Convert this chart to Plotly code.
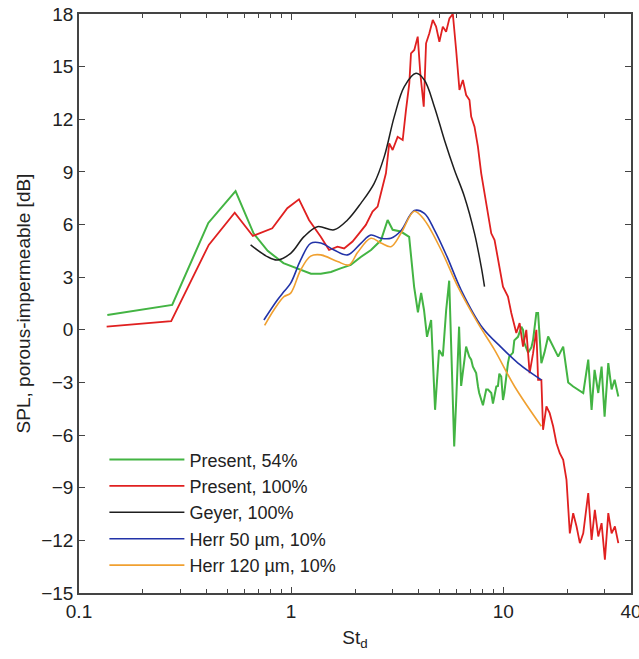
import plotly.graph_objects as go

# ---------------- data ----------------
green_x = [0.136, 0.275, 0.407, 0.547, 0.665, 0.775, 0.92, 1.24, 1.38, 1.54, 1.71, 1.91, 2.13, 2.38,
           2.65, 2.85, 3.01, 3.29, 3.6, 3.67, 3.8, 3.96, 4.1, 4.23, 4.37, 4.57, 4.72, 4.77, 4.98,
           5.19, 5.38, 5.56, 5.72, 5.87, 6.0, 6.19, 6.33, 6.45, 6.68, 6.91, 7.06, 7.19, 7.45, 7.6,
           7.7, 8.02, 8.31, 8.47, 8.78, 8.94, 9.27, 9.44, 9.58, 9.78, 9.97, 10.11, 10.33, 10.52,
           10.67, 11.11, 11.27, 11.73, 12.17, 12.39, 12.57, 13.09, 13.57, 13.82, 14.32, 14.59,
           15.12, 15.63, 16.27, 17.18, 18.14, 19.16, 20.23, 21.36, 22.56, 23.82, 25.15, 26.08,
           26.94, 28.04, 29.07, 30.03, 31.26, 32.41, 33.48, 34.86]
green_y = [0.85, 1.42, 6.09, 7.9, 5.5, 4.5, 3.8, 3.2, 3.2, 3.3, 3.5, 3.7, 4.15, 4.55,
           5.1, 6.26, 5.7, 5.6, 5.3, 4.4, 2.45, 1.0, 2.1, 1.13, -0.4, 0.56, -2.85, -4.56, -1.15,
           -1.5, 1.13, 2.8, -2.1, -6.65, -4.0, 0.18, -3.2, -2.47, -0.96, -1.53, -1.7, -2.1, -2.47, -3.23,
           -3.6, -4.3, -3.4, -3.4, -3.6, -4.2, -3.23, -3.2, -2.5, -2.67, -4.0, -3.6, -2.47, -1.9,
           -1.53, -1.3, -0.6, -0.4, 0.17, 0.0, -0.75, -1.3, -1.0, -0.57, 0.96, 0.96,
           -1.9, -1.3, -0.38, -0.96, -1.53, -0.96, -3.0, -3.23, -3.4, -3.6, -1.7, -4.56,
           -2.28, -3.6, -2.1, -4.95, -1.9, -3.4, -2.85, -3.8]

red_x = [0.135, 0.272, 0.409, 0.542, 0.66, 0.815, 0.959, 1.089, 1.214, 1.379, 1.509, 1.654, 1.777,
         1.947, 2.092, 2.25, 2.42, 2.556, 2.65, 2.798, 2.901, 3.009, 3.177, 3.356, 3.479, 3.606,
         3.673, 3.807, 3.951, 4.064, 4.218, 4.325, 4.483, 4.652, 4.822, 4.998, 5.187, 5.377, 5.574,
         5.784, 5.995, 6.215, 6.449, 6.683, 6.929, 7.058, 7.317, 7.593, 7.87, 8.157, 8.465, 8.776,
         9.097, 9.605, 9.968, 10.52, 10.91, 11.52, 11.94, 12.39, 12.84, 13.31, 13.82, 14.32, 14.59,
         15.12, 15.4, 15.97, 16.55, 17.18, 17.81, 18.46, 19.16, 19.86, 20.23, 20.59, 21.36, 22.15,
         22.96, 23.82, 25.15, 26.08, 27.02, 28.04, 29.07, 30.13, 31.26, 32.41, 33.59, 34.86]
red_y = [0.18, 0.5, 4.84, 6.68, 5.35, 5.79, 6.93, 7.44, 6.26, 5.31, 4.55, 4.74, 4.64,
         5.03, 5.5, 5.98, 6.74, 7.02, 7.78, 8.92, 10.63, 10.25, 11.0, 10.82, 12.53, 14.05,
         15.76, 15.95, 16.71, 14.62, 12.72, 16.33, 16.9, 17.66, 17.28, 16.42, 17.28, 16.99, 17.75,
         18.0, 15.95, 13.67, 14.24, 13.38, 13.1, 12.15, 11.58, 10.44, 8.92, 7.78, 6.45, 5.5,
         5.12, 3.6, 2.46, 1.9, 0.96, -0.18, 0.38, -0.96, 0.0, -2.47, -1.33, 0.0, -2.85,
         -2.85, -5.7, -4.37, -4.75, -5.5, -6.46, -7.03, -7.41, -8.55, -10.45, -11.6, -10.45, -11.21,
         -12.16, -11.6, -9.3, -11.97, -10.26, -11.78, -11.02, -13.1, -10.45, -11.6, -11.21, -12.16]

geyer_x = [0.644, 0.772, 0.861, 0.995, 1.15, 1.33, 1.594, 1.844, 2.131, 2.463, 2.747, 3.063,
           3.415, 3.879, 4.246, 4.733, 5.279, 5.886, 6.561, 7.317, 7.87, 8.157]
geyer_y = [4.84, 4.17, 3.98, 4.36, 5.31, 5.88, 5.7, 6.26, 7.21, 8.35, 9.87, 12.15,
           13.86, 14.62, 14.24, 12.72, 10.82, 9.11, 7.59, 5.5, 3.6, 2.46]

herr50_x = [0.744, 0.861, 0.925, 0.995, 1.109, 1.236, 1.379, 1.594, 1.844, 2.131, 2.376, 2.65,
            2.954, 3.294, 3.807, 4.246, 4.733, 5.43, 6.33, 8.0, 9.784, 11.73, 13.57, 15.12]
herr50_y = [0.56, 1.7, 2.18, 2.66, 3.98, 4.93, 4.95, 4.55, 4.27, 4.93, 5.4, 5.22,
            5.22, 5.65, 6.8, 6.64, 5.7, 4.17, 2.27, 0.1, -1.0, -1.9, -2.47, -2.85]

herr120_x = [0.75, 0.829, 0.925, 0.995, 1.109, 1.236, 1.379, 1.654, 1.876, 2.056, 2.376, 2.65,
             2.954, 3.294, 3.807, 4.246, 5.093, 6.107, 7.593, 9.097, 11.31, 15.12]
herr120_y = [0.25, 1.13, 1.89, 2.09, 3.41, 4.2, 4.27, 3.89, 3.7, 4.4, 5.22, 4.95,
             4.74, 5.5, 6.76, 6.26, 4.55, 2.46, 0.38, -1.14, -3.23, -5.5]

x_tickvals = [0.1, 1, 10, 40]
x_ticktext = ["0.1", "1", "10", "40"]
x_minor = [0.2, 0.3, 0.4, 0.5, 0.6, 0.7, 0.8, 0.9, 2, 3, 4, 5, 6, 7, 8, 9, 20, 30]
y_tickvals = [-15, -12, -9, -6, -3, 0, 3, 6, 9, 12, 15, 18]

FONT = "Arial, Liberation Sans, Helvetica, sans-serif"

# ---------------- figure ----------------
fig = go.Figure()
fig.add_trace(go.Scatter(x=green_x, y=green_y, mode="lines", name="Present, 54%",
                         line=dict(color="#43b443", width=2)))
fig.add_trace(go.Scatter(x=red_x, y=red_y, mode="lines", name="Present, 100%",
                         line=dict(color="#e02020", width=1.8)))
fig.add_trace(go.Scatter(x=geyer_x, y=geyer_y, mode="lines", name="Geyer, 100%",
                         line=dict(color="#1e1e1e", width=1.5, shape="spline")))
fig.add_trace(go.Scatter(x=herr50_x, y=herr50_y, mode="lines", name="Herr 50 \u00b5m, 10%",
                         line=dict(color="#2233a8", width=1.6, shape="spline")))
fig.add_trace(go.Scatter(x=herr120_x, y=herr120_y, mode="lines", name="Herr 120 \u00b5m, 10%",
                         line=dict(color="#f0a030", width=1.6, shape="spline")))

axis_common = dict(showline=True, linecolor="#444444", linewidth=1.5, mirror="ticks",
                   ticks="inside", tickcolor="#444444", showgrid=False, zeroline=False,
                   automargin=False,
                   tickfont=dict(family=FONT, size=19, color="#222222"))

fig.update_xaxes(type="log", range=[-1, 1.60206], tickvals=x_tickvals, ticktext=x_ticktext,
                 ticklen=6, tickwidth=1.2, ticklabeloverflow="allow",
                 minor=dict(tickvals=x_minor, ticks="inside", ticklen=4, tickcolor="#444444"),
                 title=dict(text="St<sub>d</sub>", font=dict(family=FONT, size=19, color="#222222"),
                            standoff=10),
                 **axis_common)
fig.update_yaxes(range=[-15, 18], tickvals=y_tickvals, ticklen=6, tickwidth=1.2,
                 title=dict(text="SPL, porous-impermeable [dB]",
                            font=dict(family=FONT, size=19, color="#222222"), standoff=6),
                 **axis_common)

fig.update_layout(
    width=639, height=659,
    margin=dict(l=79, r=8, t=14, b=66),
    paper_bgcolor="white", plot_bgcolor="white",
    showlegend=True,
    legend=dict(x=0.046, y=0.262, xanchor="left", yanchor="top",
                bgcolor="rgba(255,255,255,1)", borderwidth=0,
                font=dict(family=FONT, size=18, color="#222222"),
                itemwidth=75, tracegroupgap=0),
    font=dict(family=FONT),
)

fig.write_html("out.html")
